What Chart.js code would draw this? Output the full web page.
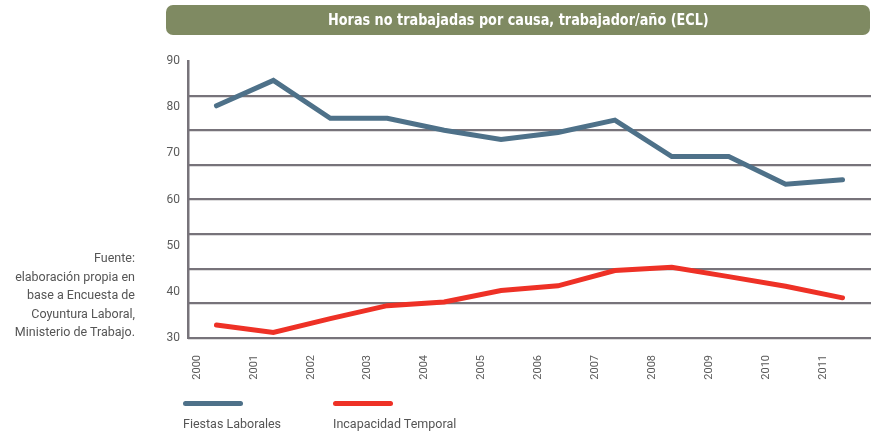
<!DOCTYPE html>
<html>
<head>
<meta charset="utf-8">
<script src="https://cdn.jsdelivr.net/npm/chart.js@4.4.1/dist/chart.umd.min.js"></script>
<style>
  body { margin: 0; background: #fff; font-family: Roboto, "Noto Sans", sans-serif; }
  #wrap { position: relative; width: 872px; height: 435px; }
  #box { position: absolute; left: 0; top: 0; width: 872px; height: 435px; }
  #title {
    position: absolute; left: 166px; top: 5px; width: 704px; height: 30px;
    background: #7f8a62; border-radius: 7px; color: #fff; text-align: center;
    line-height: 30px; white-space: nowrap;
  }
  #title span {
    display: inline-block; transform: scaleX(0.95);
    font-family: "Liberation Sans Narrow", "DejaVu Sans Condensed", sans-serif;
    font-weight: bold; font-size: 15px;
  }
  #source {
    position: absolute; right: 737px; top: 249px; text-align: right;
    color: #555; font-size: 12.5px; line-height: 18.5px;
  }
  .leg { position: absolute; top: 401px; color: #555; font-size: 12.5px; }
  .leg .sw { width: 60px; height: 5px; border-radius: 3px; }
  .leg .tx { margin-top: 10px; }
</style>
</head>
<body>
<div id="wrap">
  <div id="box"><canvas id="chart_1"></canvas></div>
  <div id="title"><span>Horas no trabajadas por causa, trabajador/año (ECL)</span></div>
  <div id="source">Fuente:<br>elaboración propia en<br>base a Encuesta de<br>Coyuntura Laboral,<br>Ministerio de Trabajo.</div>
  <div id="legend"></div>
</div>
<script>
// data
let years = ['2000', '2001', '2002', '2003', '2004', '2005', '2006', '2007', '2008', '2009', '2010', '2011'];
let fiestas = [80.3, 85.8, 77.6, 77.6, 75.0, 73.0, 74.5, 77.2, 69.3, 69.3, 63.3, 64.3];
let incapacidad = [32.8, 31.2, 34.2, 37.0, 37.8, 40.3, 41.3, 44.6, 45.3, 43.3, 41.2, 38.7];
let series_names = ['Fiestas Laborales', 'Incapacidad Temporal'];
let series_colors = ['#4e7189', '#ee3126'];

let grey = '#77737a';

let chart = new Chart('chart_1', {
    type: 'line',
    data: {
        labels: years,
        datasets: [
            { label: series_names[0], data: fiestas, borderColor: series_colors[0] },
            { label: series_names[1], data: incapacidad, borderColor: series_colors[1] },
        ],
    },
    options: {
        responsive: true,
        maintainAspectRatio: false,
        animation: { duration: 0 },
        layout: { padding: { left: 150, top: 61, right: 1, bottom: 47 } },
        elements: {
            line: { borderWidth: 5, tension: 0, borderCapStyle: 'round', borderJoinStyle: 'miter' },
            point: { radius: 0 },
        },
        plugins: { legend: { display: false }, tooltip: { enabled: false } },
        scales: {
            x: {
                offset: true,
                grid: { display: false },
                border: { display: false },
                afterFit: (s) => { s.height = 50; },
                ticks: {
                    autoSkip: false, minRotation: 90, maxRotation: 90,
                    labelOffset: -19.5, padding: 9,
                    color: '#5a5a5a', font: { family: 'Roboto', size: 11 },
                },
            },
            y: {
                position: 'left', min: 30, max: 90,
                afterFit: (s) => { s.width = 38; },
                grid: { display: false, drawTicks: false },
                border: { display: true, color: grey, width: 2.5 },
                ticks: { stepSize: 10, padding: 8, color: '#5a5a5a', font: { family: 'Roboto', size: 12 } },
            },
            yg: {
                position: 'right', min: 30, max: 90,
                afterFit: (s) => { s.width = 0; },
                border: { display: false },
                ticks: { display: false, stepSize: 7.5 },
                grid: {
                    drawTicks: false, lineWidth: 2.2,
                    color: (c) => (c.tick && c.tick.value === 90 ? 'rgba(0,0,0,0)' : grey),
                },
            },
        },
    },
});

// legend built from the datasets
let legend = document.getElementById('legend');
let legend_x = [183, 333];
chart.data.datasets.forEach((ds, i) => {
    let el = document.createElement('div');
    el.className = 'leg';
    el.style.left = legend_x[i] + 'px';
    el.innerHTML = '<div class="sw" style="background:' + ds.borderColor + '"></div><div class="tx">' + ds.label + '</div>';
    legend.appendChild(el);
});
</script>
</body>
</html>
